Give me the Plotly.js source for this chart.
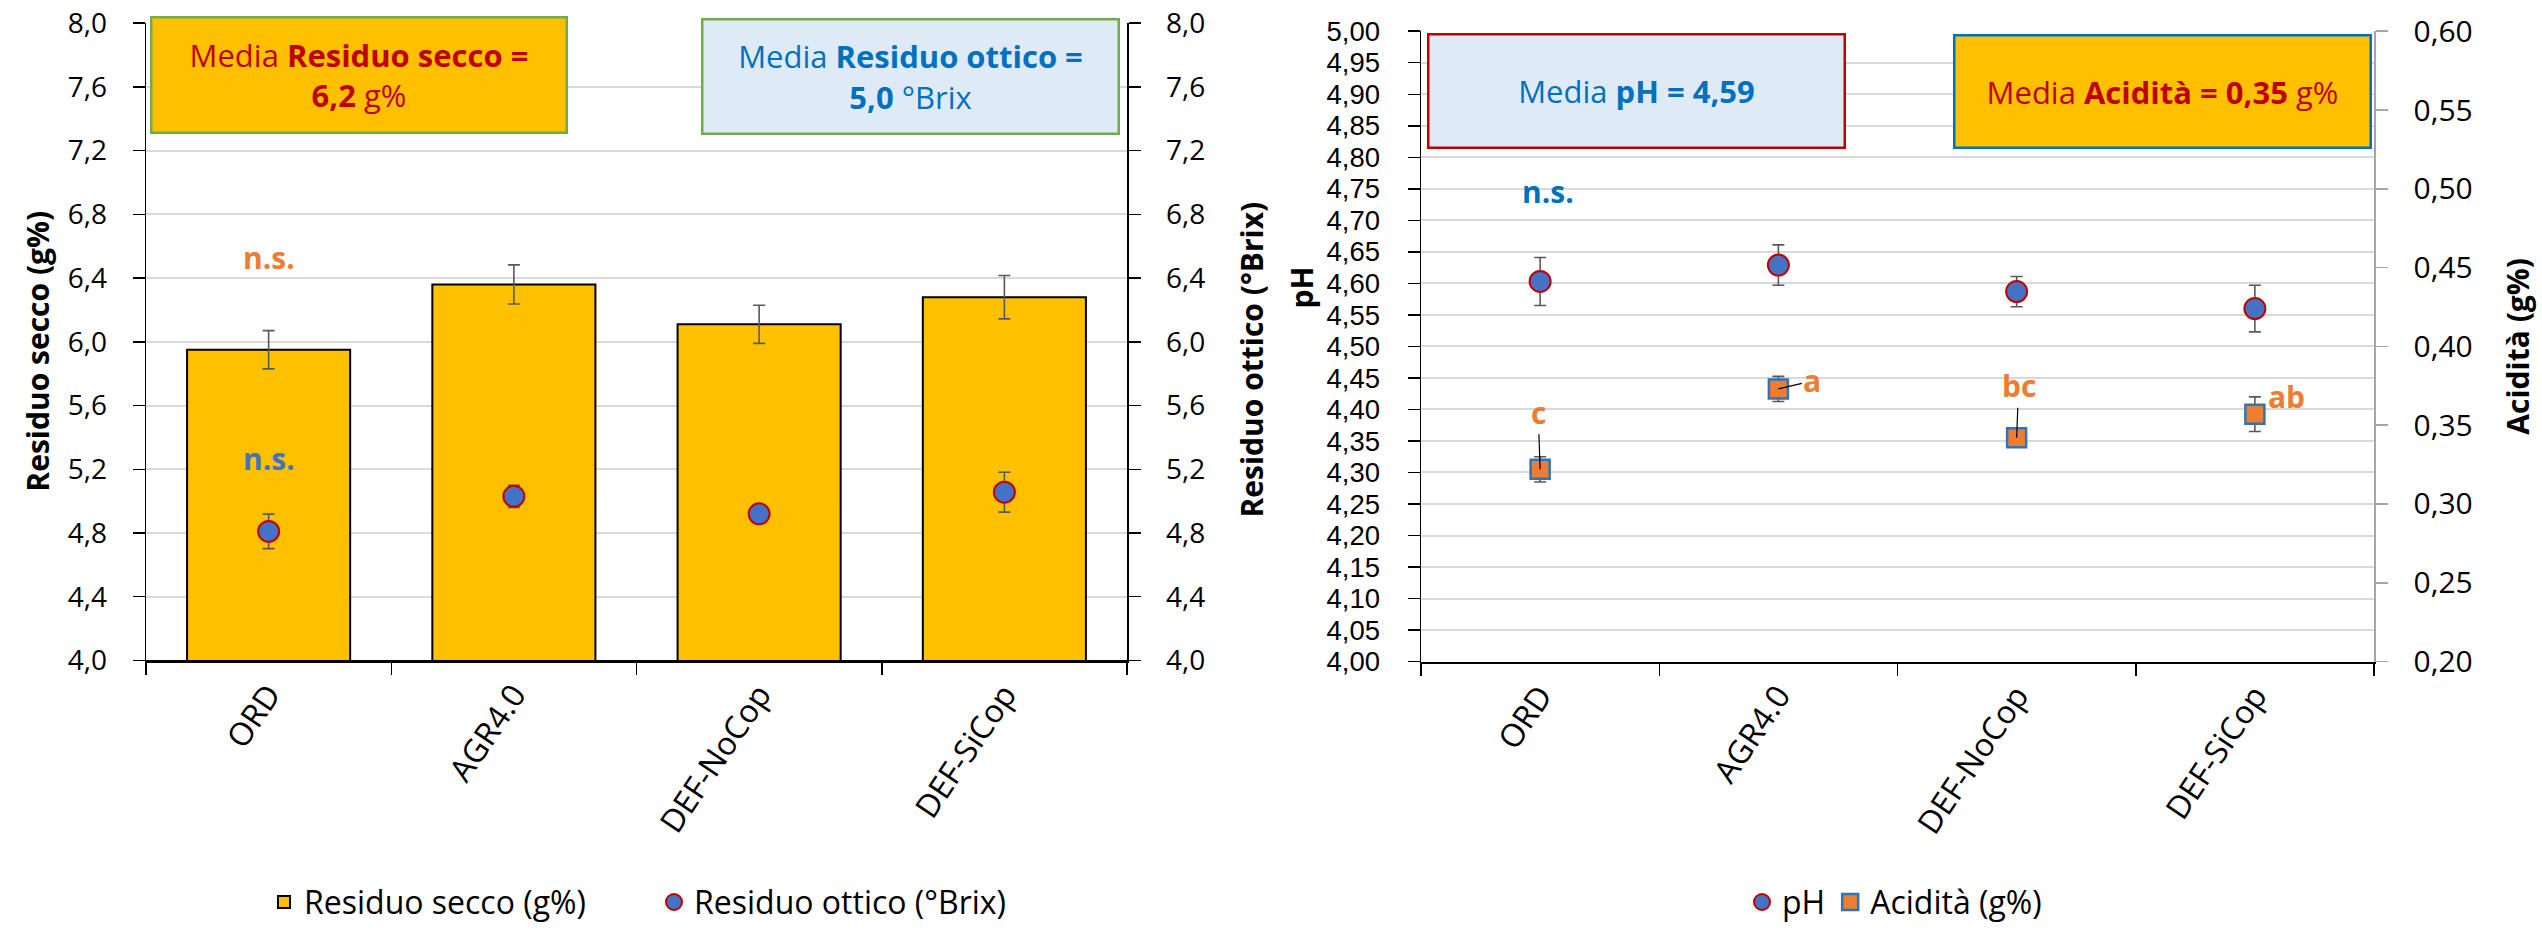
<!DOCTYPE html>
<html><head><meta charset="utf-8">
<script src="https://cdn.plot.ly/plotly-3.0.1.min.js"></script>
<style>html,body{margin:0;padding:0;background:#fff}#chart{width:2542px;height:930px}</style>
</head><body><div id="chart"></div>
<script>
// ---- data ----
const categories = ['ORD', 'AGR4.0', 'DEF-NoCop', 'DEF-SiCop'];
const residuoSecco = [5.95, 6.36, 6.11, 6.28];
const residuoSeccoErr = [0.12, 0.123, 0.12, 0.136];
const residuoOttico = [4.81, 5.03, 4.92, 5.056];
const residuoOtticoErr = [0.108, 0.07, 0.03, 0.125];
const pH = [4.603, 4.629, 4.587, 4.56];
const pHErr = [0.038, 0.032, 0.024, 0.037];
const acidita = [0.322, 0.373, 0.342, 0.357];
const aciditaErr = [0.008, 0.008, 0.004, 0.011];
const acidLetters = ['c', 'a', 'bc', 'ab'];
const mediaSecco = '6,2', mediaOttico = '5,0', mediaPH = '4,59', mediaAcid = '0,35';

// ---- layout helpers ----
const W = 2542, H = 930;
const FONT = 'Open Sans, sans-serif';
const TIGHT = 'Liberation Sans, Arial, sans-serif';
const px = v => v / W, py = v => 1 - v / H;
const ERR = {type: 'data', color: '#595959', thickness: 1.6, width: 6};

const traces = [
  {type: 'bar', name: 'Residuo secco (g%)', x: categories, y: residuoSecco,
   error_y: Object.assign({array: residuoSeccoErr}, ERR),
   marker: {color: '#FFC000', line: {color: '#000', width: 2}},
   xaxis: 'x', yaxis: 'y', legend: 'legend'},
  {type: 'scatter', mode: 'markers', name: 'Residuo ottico (°Brix)', x: categories, y: residuoOttico,
   error_y: Object.assign({array: residuoOtticoErr}, ERR),
   marker: {symbol: 'circle', size: 21, color: '#4472C4', line: {color: '#C00000', width: 2}},
   xaxis: 'x', yaxis: 'y2', legend: 'legend'},
  {type: 'scatter', mode: 'markers', name: 'pH', x: categories, y: pH,
   error_y: Object.assign({array: pHErr}, ERR),
   marker: {symbol: 'circle', size: 21, color: '#4472C4', line: {color: '#C00000', width: 2}},
   xaxis: 'x2', yaxis: 'y3', legend: 'legend2'},
  {type: 'scatter', mode: 'markers', name: 'Acidità (g%)', x: categories, y: acidita,
   error_y: Object.assign({array: aciditaErr}, ERR),
   marker: {symbol: 'square', size: 19, color: '#ED7D31', line: {color: '#2E75B6', width: 2.5}},
   xaxis: 'x2', yaxis: 'y4', legend: 'legend2'}
];

const tickFont = (s, f) => ({family: f || FONT, size: s, color: '#000'});
const xAx = dom => ({domain: dom, type: 'category', range: [-0.5, 3.5], autorange: false,
  tickson: 'boundaries', ticks: 'outside', ticklen: 12,
  tickwidth: 1.5, tickcolor: '#000', showline: true, linecolor: '#000', linewidth: 2.5,
  tickangle: -56, tickfont: tickFont(32), showgrid: false, zeroline: false, fixedrange: true});

const leftDom = [py(670.5), py(23.6)];
const rightDom = [py(671.7), py(31.7)];

const layout = {
  width: W, height: H, margin: {l: 0, r: 0, t: 0, b: 0},
  paper_bgcolor: '#fff', plot_bgcolor: '#fff', separators: ',.',
  font: {family: FONT, color: '#000'},
  bargap: 0.335, showlegend: true,
  xaxis: xAx([px(146), px(1127)]),
  xaxis2: Object.assign(xAx([px(1421), px(2374)]), {anchor: 'y3'}),
  yaxis: {domain: leftDom, anchor: 'x', range: [4, 8], tick0: 4, dtick: 0.4, tickformat: '.1f',
    ticks: 'outside', ticklen: 12, tickwidth: 1.5, tickcolor: '#000', showline: true, linecolor: '#000', linewidth: 1.5,
    showgrid: true, gridcolor: '#D9D9D9', gridwidth: 2, zeroline: false, tickfont: tickFont(28), ticklabelstandoff: 20},
  yaxis2: {overlaying: 'y', side: 'right', anchor: 'x', range: [4, 8], tick0: 4, dtick: 0.4, tickformat: '.1f',
    ticks: 'outside', ticklen: 12, tickwidth: 1.5, tickcolor: '#000', showline: true, linecolor: '#000', linewidth: 1.5,
    showgrid: false, zeroline: false, tickfont: tickFont(28), ticklabelstandoff: 20},
  yaxis3: {domain: rightDom, anchor: 'x2', range: [4, 5], tick0: 4, dtick: 0.05, tickformat: '.2f',
    ticks: 'outside', ticklen: 12, tickwidth: 1.5, tickcolor: '#000', showline: true, linecolor: '#000', linewidth: 1.5,
    showgrid: true, gridcolor: '#D9D9D9', gridwidth: 2, zeroline: false, tickfont: tickFont(27.5, TIGHT), ticklabelstandoff: 22},
  yaxis4: {overlaying: 'y3', side: 'right', anchor: 'x2', range: [0.2, 0.6], tick0: 0.2, dtick: 0.05, tickformat: '.2f',
    ticks: 'outside', ticklen: 12, tickwidth: 1.5, tickcolor: '#A6A6A6', showline: true, linecolor: '#A6A6A6', linewidth: 1.5,
    showgrid: false, zeroline: false, tickfont: tickFont(30), ticklabelstandoff: 20},
  legend: {orientation: 'h', x: px(264), xanchor: 'left', y: py(916), yanchor: 'middle',
    font: {family: FONT, size: 32, color: '#000'}, entrywidth: 345, itemwidth: 30, bgcolor: 'rgba(0,0,0,0)'},
  legend2: {orientation: 'h', x: px(1742), xanchor: 'left', y: py(916), yanchor: 'middle',
    font: {family: FONT, size: 32, color: '#000'}, itemwidth: 30, bgcolor: 'rgba(0,0,0,0)'},
  annotations: []
};

const ann = layout.annotations;
// axis titles
const axTitle = (text, x, y) => ann.push({text: '<b>' + text + '</b>', xref: 'paper', yref: 'paper', x: px(x), y: py(y),
  textangle: -90, showarrow: false, font: {family: FONT, size: 30, color: '#000'}, xanchor: 'center', yanchor: 'middle'});
axTitle('Residuo secco (g%)', 38, 357);
axTitle('Residuo ottico (°Brix)', 1252, 365);
axTitle('pH', 1302, 292);
axTitle('Acidità (g%)', 2518, 352);

// mean boxes
const box = (text, x0, y0, x1, y1, fill, border, color) => ann.push({text: text, xref: 'paper', yref: 'paper',
  x: px(x0), y: py(y0), xanchor: 'left', yanchor: 'top', showarrow: false, align: 'center', valign: 'middle',
  width: x1 - x0 - 3, height: y1 - y0 - 3, bgcolor: fill, bordercolor: border, borderwidth: 2.5, borderpad: 0,
  font: {family: FONT, size: 31, color: color}});
box('Media <b>Residuo secco =</b><br><b>' + mediaSecco + '</b> g%', 150, 16, 566, 132, '#FFC000', '#70AD47', '#C00000');
box('Media <b>Residuo ottico =</b><br><b>' + mediaOttico + '</b> °Brix', 701, 18, 1118, 133, '#DEEBF7', '#70AD47', '#0070C0');
box('Media <b>pH = ' + mediaPH + '</b>', 1427, 33, 1844, 147, '#DEEBF7', '#C00000', '#0070C0');
box('Media <b>Acidità = ' + mediaAcid + '</b> g%', 1953, 35, 2370, 148, '#FFC000', '#0070C0', '#C00000');

// significance labels
const sig = (text, xref, yref, x, y, color, xshift) => ann.push({text: '<b>' + text + '</b>', xref: xref, yref: yref,
  x: x, y: y, showarrow: false, xshift: xshift || 0, font: {family: FONT, size: 30, color: color}});
sig('n.s.', 'x', 'y', categories[0], 6.53, '#ED7D31');
sig('n.s.', 'x', 'y2', categories[0], 5.265, '#4472C4');
sig('n.s.', 'x2', 'y3', categories[0], 4.745, '#0070C0', 8);

// letters on acidity with leader lines
const letterOffsets = [[-2, -57, true], [34, -8, true], [2, -52, true], [32, -18, false]];
acidLetters.forEach((t, i) => {
  const o = letterOffsets[i];
  ann.push({text: '<b>' + t + '</b>', xref: 'x2', yref: 'y4', x: categories[i], y: acidita[i],
    showarrow: true, ax: o[0], ay: o[1], arrowhead: 0, arrowwidth: 1.2, standoff: 0, startstandoff: 0,
    arrowcolor: o[2] ? '#000' : 'rgba(0,0,0,0)', font: {family: FONT, size: 30, color: '#ED7D31'}});
});

Plotly.newPlot('chart', traces, layout, {staticPlot: true, displayModeBar: false});
</script></body></html>
